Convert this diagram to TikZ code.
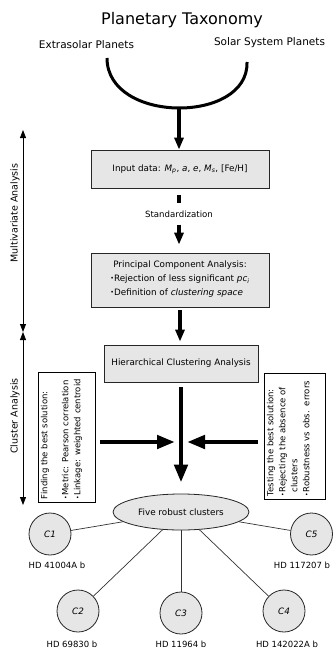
\documentclass[tikz,border=0pt]{standalone}
\usepackage{fontspec}
\usepackage{graphicx}
\setmainfont{DejaVu Sans}
\usetikzlibrary{shapes.geometric,arrows.meta}
\definecolor{boxgray}{HTML}{E6E6E6}
\newcommand{\mybul}{\raisebox{0.15ex}{\scalebox{0.7}{•}}}
\begin{document}
\begin{tikzpicture}[x=1pt,y=-1pt,
  box/.style={draw=black!85, line width=0.8pt, fill=boxgray, font=\fontsize{8.8}{11}\selectfont, inner sep=2pt},
  bigarrow/.style={line width=4.5pt, -{Triangle[width=13pt,length=18pt]}},
  midarrow/.style={line width=4pt, -{Triangle[width=9pt,length=12pt]}},
  axisarrow/.style={line width=0.8pt, {Triangle[width=6pt,length=8pt]}-{Triangle[width=6pt,length=8pt]}},
  sidebox/.style={draw=black, line width=0.8pt, fill=white, rotate=90, inner sep=3pt, font=\fontsize{8.5}{12}\selectfont},
  clus/.style={circle, draw=black!85, fill=boxgray, line width=0.8pt, minimum size=42pt, inner sep=0pt, font=\fontsize{8.8}{10}\selectfont\itshape},
  lab/.style={font=\fontsize{8.5}{10}\selectfont},
  conn/.style={line width=0.7pt, draw=black!80},
  axlab/.style={rotate=90, font=\fontsize{9.5}{11}\selectfont}
]
\useasboundingbox (0,0) rectangle (333,650);

% title and sources
\node[font=\fontsize{16}{19}\selectfont] (title) at (182,20) {Planetary Taxonomy};
\node[font=\fontsize{10.5}{12}\selectfont] (extra) at (86.5,45) {Extrasolar Planets};
\node[font=\fontsize{10.5}{12}\selectfont] (solar) at (269.5,43) {Solar System Planets};

\coordinate (arcL) at (107,58);
\coordinate (arcR) at (247,62);
\coordinate (arcB) at (179,108);
\draw[line width=3pt] (arcL) .. controls (107,124) and (249,124) .. (arcR);

% boxes
\node[box, minimum width=178pt, minimum height=38pt] (input) at (180,169)
  {Input data: \textit{M}\textsubscript{\textit{p}}, \textit{a}, \textit{e}, \textit{M}\textsubscript{\textit{s}}, [Fe/H]};
\node[box, minimum width=178pt, minimum height=54pt, align=center] (pca) at (180,280)
  {Principal Component Analysis:\\[2pt]
   \def\arraystretch{1.25}\begin{tabular}{@{}l@{}}
   \mybul Rejection of less significant \textit{pc}\textsubscript{\textit{i}}\\
   \mybul Definition of \textit{clustering space}
   \end{tabular}};
\node[box, minimum width=154pt, minimum height=37pt] (hca) at (181,363.5) {Hierarchical Clustering Analysis};
\node[font=\fontsize{8.6}{10}\selectfont, minimum height=21pt, inner sep=1pt] (std) at (179,214) {Standardization};

\draw[midarrow] (arcB) -- (arcB |- input.north);
\draw[line width=4pt] ([yshift=-7pt]std.north |- input.south) -- (std.north);
\draw[midarrow] (std.south) -- ([yshift=8pt]std.south |- pca.north);
\draw[midarrow] ([yshift=-3pt]pca.south) -- ([yshift=3pt]pca.south |- hca.north);

% ellipse
\node[ellipse, draw=black!85, fill=boxgray, line width=0.8pt, minimum width=136pt, minimum height=36pt, inner sep=0pt, font=\fontsize{8.8}{10}\selectfont] (five) at (181,512) {Five robust clusters};
\draw[bigarrow] ([yshift=-5pt]hca.south) -- ([yshift=11pt]five.north);

% side boxes
\node[sidebox] (lb) at (66.5,437) {\parbox[c][51pt][t]{124pt}{\raggedright
  Finding the best solution:\\[9pt]
  \mybul Metric: Pearson correlation\\
  \mybul Linkage: weighted centroid}};
\node[sidebox] (rb) at (294.5,436) {\parbox[c][55pt][t]{120pt}{\raggedright
  Testing the best solution:\\
  \mybul Rejecting the absence of\\
  \phantom{\mybul}clusters\\
  \mybul Robustness vs obs.\hspace{0.6em}errors}};

\coordinate (tipL) at (175,442);
\coordinate (tipR) at (187,442);
\draw[bigarrow] ([xshift=5pt]lb.south |- tipL) -- (tipL);
\draw[bigarrow] ([xshift=-6pt]rb.north |- tipR) -- (tipR);

% axis
\coordinate (axT) at (23,130);
\coordinate (axM) at (23,332);
\coordinate (axB) at (23,505);
\draw[axisarrow] (axT) -- (axM);
\draw[axisarrow] (axM) -- (axB);
\node[axlab] (mva) at (15,213) {Multivariate Analysis};
\node[axlab] (cla) at (15,416) {Cluster Analysis};

% clusters
\node[clus] (c1) at (50,534) {C1};
\node[clus] (c5) at (311.5,534) {C5};
\node[clus] (c2) at (78,611) {C2};
\node[clus] (c3) at (181,613) {C3};
\node[clus] (c4) at (284,611) {C4};
\draw[conn] (five) -- (c1);
\draw[conn] (five) -- (c2);
\draw[conn] (five) -- (c3);
\draw[conn] (five) -- (c4);
\draw[conn] (five) -- (c5);
\node[lab] (l1) at (57,565) {HD 41004A b};
\node[lab] (l5) at (302,565) {HD 117207 b};
\node[lab] (l2) at (72,644) {HD 69830 b};
\node[lab] (l3) at (181,644) {HD 11964 b};
\node[lab] (l4) at (287,644) {HD 142022A b};
\end{tikzpicture}
\end{document}
